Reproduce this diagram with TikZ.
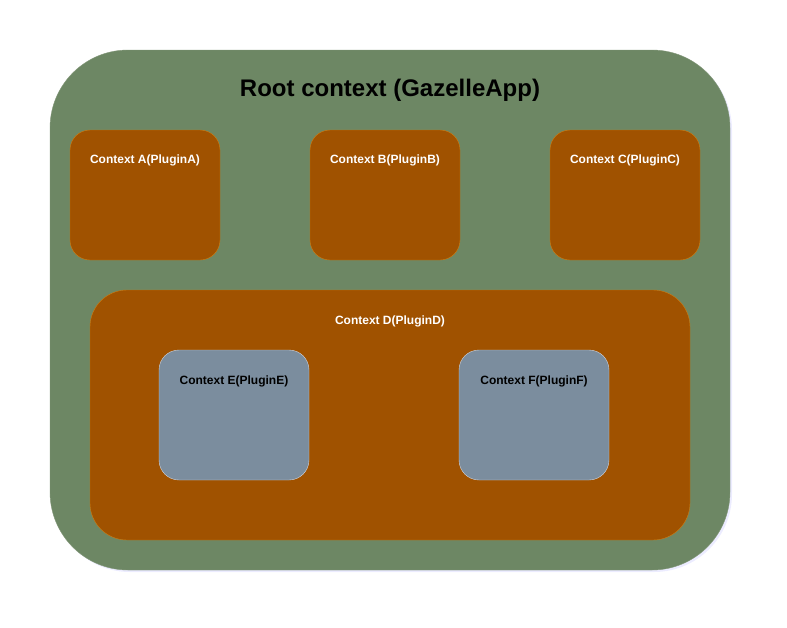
\documentclass[tikz,border=0pt]{standalone}
\usepackage{fontspec}
\setmainfont{Liberation Sans}
\usetikzlibrary{positioning,shadows}

\definecolor{rootgreen}{RGB}{109,135,100}
\definecolor{rootline}{RGB}{130,150,120}
\definecolor{ctxorange}{RGB}{160,82,0}
\definecolor{ctxline}{RGB}{205,125,20}
\definecolor{ctxgray}{RGB}{123,141,158}
\definecolor{grayline}{RGB}{205,210,220}

\begin{document}
\begin{tikzpicture}[x=1pt,y=-1pt,
  rootbox/.style={draw=rootline,fill=rootgreen,rounded corners=78pt,minimum width=680pt,minimum height=520pt,
    drop shadow={shadow xshift=2pt,shadow yshift=-2pt,fill=blue!12,opacity=.6}},
  ctxbox/.style={draw=ctxline,fill=ctxorange,rounded corners=20pt,minimum width=150pt,minimum height=130pt},
  bigbox/.style={draw=ctxline,fill=ctxorange,rounded corners=37pt,minimum width=600pt,minimum height=250pt},
  innerbox/.style={draw=grayline,fill=ctxgray,rounded corners=20pt,minimum width=150pt,minimum height=130pt},
  whitelabel/.style={text=white,font=\bfseries\fontsize{12}{14}\selectfont},
  blacklabel/.style={text=black,font=\bfseries\fontsize{12}{14}\selectfont}]
\useasboundingbox (0,0) rectangle (787,627);

\node[rootbox] (root) at (390,310) {};
\node[below=40pt of root.north,anchor=center,font=\bfseries\fontsize{24}{28}\selectfont] (root_label) {Root context (GazelleApp)};

\node[ctxbox] (ctx_a) at (145,195) {};
\node[ctxbox] (ctx_b) at (385,195) {};
\node[ctxbox] (ctx_c) at (625,195) {};
\node[whitelabel,below=31pt of ctx_a.north,anchor=center] (ctx_a_label) {Context A(PluginA)};
\node[whitelabel,below=31pt of ctx_b.north,anchor=center] (ctx_b_label) {Context B(PluginB)};
\node[whitelabel,below=31pt of ctx_c.north,anchor=center] (ctx_c_label) {Context C(PluginC)};

\node[bigbox] (ctx_d) at (390,415) {};
\node[whitelabel,below=32pt of ctx_d.north,anchor=center] (ctx_d_label) {Context D(PluginD)};

\node[innerbox] (ctx_e) at (234,415) {};
\node[innerbox] (ctx_f) at (534,415) {};
\node[blacklabel,below=32pt of ctx_e.north,anchor=center] (ctx_e_label) {Context E(PluginE)};
\node[blacklabel,below=32pt of ctx_f.north,anchor=center] (ctx_f_label) {Context F(PluginF)};

\end{tikzpicture}
\end{document}
